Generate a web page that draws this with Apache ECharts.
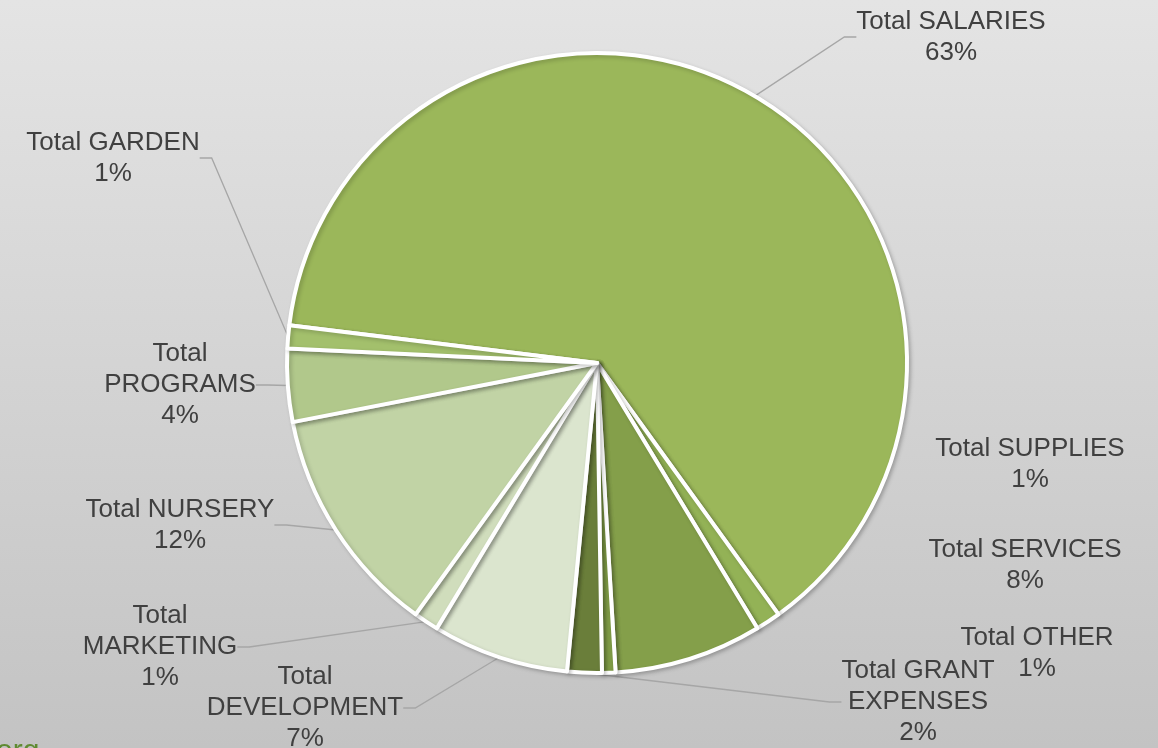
<!DOCTYPE html>
<html>
<head>
<meta charset="utf-8">
<script src="https://cdn.jsdelivr.net/npm/echarts@6/dist/echarts.min.js"></script>
<style>
  html, body { margin: 0; padding: 0; }
  #chart {
    width: 1158px;
    height: 748px;
    background: linear-gradient(to bottom, #e4e4e4 0%, #c3c3c3 100%);
  }
</style>
</head>
<body>
<div id="chart"></div>
<script>
// slices, clockwise starting with SALARIES
const categories = [
  'Total SALARIES', 'Total SUPPLIES', 'Total SERVICES', 'Total OTHER',
  'Total GRANT EXPENSES', 'Total DEVELOPMENT', 'Total MARKETING',
  'Total NURSERY', 'Total PROGRAMS', 'Total GARDEN'
];
const labelTexts = [
  'Total SALARIES', 'Total SUPPLIES', 'Total SERVICES', 'Total OTHER',
  'Total GRANT\nEXPENSES', 'Total\nDEVELOPMENT', 'Total\nMARKETING',
  'Total NURSERY', 'Total\nPROGRAMS', 'Total GARDEN'
];
const values = [63.1, 1.3, 7.7, 0.7, 1.8, 7.1, 1.3, 12.0, 3.8, 1.2];
const colors = [
  '#9bb75a', '#93b256', '#849f4a', '#7f9c46', '#6a7e3a',
  '#dbe5ce', '#d0ddbc', '#c1d3a5', '#b1c88b', '#a3c06c'
];
// where each label block is centred
const labelPos = [
  [951, 37], [1030, 464], [1025, 565], [1037, 653], [918, 702],
  [305, 708], [160, 647], [180, 385 + 140], [180, 385], [113, 158]
];
const noLine = ['Total SUPPLIES', 'Total SERVICES', 'Total OTHER'];

const chart = echarts.init(document.getElementById('chart'));

const option = {
  animation: false,
  graphic: [{
    type: 'text',
    left: -4,
    top: 737,
    style: { text: 'org', fill: '#5f8a30', font: '30px "Liberation Sans", Arial, sans-serif' }
  }],
  series: [{
    type: 'pie',
    center: [597, 363],
    radius: 310,
    startAngle: 173,
    clockwise: true,
    avoidLabelOverlap: false,
    itemStyle: {
      borderColor: '#ffffff',
      borderWidth: 4,
      shadowBlur: 4,
      shadowOffsetX: 2,
      shadowOffsetY: 2,
      shadowColor: 'rgba(0,0,0,0.2)'
    },
    label: {
      show: true,
      position: 'outside',
      color: '#404040',
      fontFamily: '"Liberation Sans", Arial, sans-serif',
      fontSize: 26,
      lineHeight: 31,
      align: 'center',
      formatter: p => labelTexts[p.dataIndex] + '\n' + Math.round(p.percent) + '%'
    },
    labelLine: {
      show: true,
      length: 10,
      length2: 12,
      lineStyle: { color: '#a6a6a6', width: 1.3 }
    },
    labelLayout: p => ({
      x: labelPos[p.dataIndex][0],
      y: labelPos[p.dataIndex][1],
      align: 'center',
      verticalAlign: 'middle'
    }),
    emphasis: { disabled: true },
    data: categories.map((name, i) => ({
      name,
      value: values[i],
      itemStyle: { color: colors[i] },
      labelLine: { show: noLine.indexOf(name) < 0 }
    }))
  }]
};

chart.setOption(option);
</script>
</body>
</html>
